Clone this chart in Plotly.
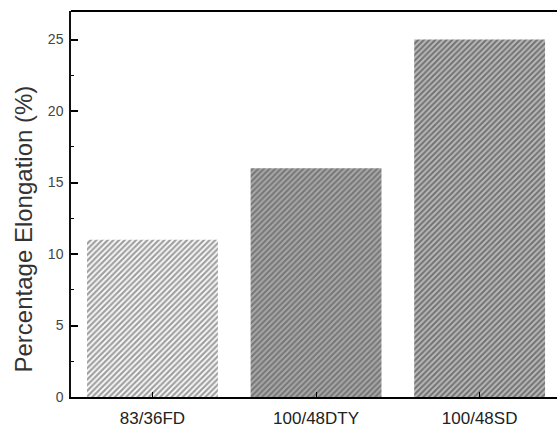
import plotly.graph_objects as go

categories = ["83/36FD", "100/48DTY", "100/48SD"]
elongation = [11, 16, 25]
y_ticks = [0, 5, 10, 15, 20, 25]
y_title = "Percentage Elongation (%)"

bg_colors = ["#ffffff", "#a8a8a8", "#727272"]
fg_colors = ["#000000", "#2a2a2a", "#1a1a1a"]
hatch_solidity = [0.58, 0.5, 0.5]

fig = go.Figure()
fig.add_trace(go.Bar(
    x=categories,
    y=elongation,
    marker=dict(
        color=bg_colors,
        line=dict(width=0),
        pattern=dict(shape="/", fgcolor=fg_colors, bgcolor=bg_colors, size=4,
                     solidity=hatch_solidity, fillmode="overlay"),
    ),
    width=0.8,
))

fig.update_layout(
    width=557, height=432,
    margin=dict(l=71, r=0, t=11, b=35),
    plot_bgcolor="white", paper_bgcolor="white",
    showlegend=False,
    font=dict(family="Liberation Sans, Arial, sans-serif"),
    xaxis=dict(
        range=[-0.498, 2.473],
        automargin=False,
        showline=True, linecolor="black", linewidth=2, mirror=False,
        ticks="inside", ticklen=5, tickcolor="black", tickwidth=1,
        tickfont=dict(size=17, color="#222222"),
        ticklabelstandoff=5,
        showgrid=False, zeroline=False,
    ),
    yaxis=dict(
        range=[0, 27],
        automargin=False,
        tickvals=y_ticks,
        showline=True, linecolor="#111111", linewidth=1.5,
        ticks="inside", ticklen=7, tickcolor="black", tickwidth=1.5,
        minor=dict(dtick=2.5, ticks="inside", ticklen=3, tickcolor="black", tickwidth=1),
        tickfont=dict(size=14, color="#444444"),
        ticklabelstandoff=3,
        showgrid=False, zeroline=False,
    ),
    shapes=[dict(
        type="line", xref="paper", yref="paper",
        x0=0, x1=1, y0=1, y1=1,
        line=dict(color="black", width=2),
    )],
    annotations=[dict(
        text=y_title, textangle=-90,
        xref="paper", yref="paper",
        x=(22.5 - 71) / 486, y=(397 - 229) / 386,
        xanchor="center", yanchor="middle",
        showarrow=False,
        font=dict(size=24, color="#333333"),
    )],
)

fig.write_html(
    "out.html",
    config={"displayModeBar": False},
    post_script=(
        "document.body.style.margin='0';"
        "document.body.style.overflow='hidden';"
        "document.documentElement.style.overflow='hidden';"
    ),
)
